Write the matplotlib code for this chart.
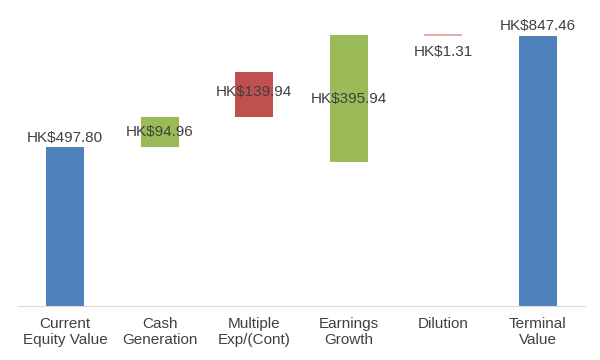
import matplotlib
matplotlib.use("Agg")
import matplotlib.pyplot as plt

categories = ["Current\nEquity Value", "Cash\nGeneration", "Multiple\nExp/(Cont)",
              "Earnings\nGrowth", "Dilution", "Terminal\nValue"]
values = [497.80, 94.96, -139.94, 395.94, -1.31, 847.46]
kinds = ["total", "delta", "delta", "delta", "delta", "total"]
labels = ["HK$497.80", "HK$94.96", "HK$139.94", "HK$395.94", "HK$1.31", "HK$847.46"]

BLUE = "#4F81BD"
GREEN = "#9BBB59"
RED = "#C0504D"
TXT = "#404040"

plt.rcParams['font.family'] = ['Liberation Sans', 'DejaVu Sans']

fig = plt.figure(figsize=(6, 3.6), dpi=100)
ax = fig.add_axes([0.03, 0.15, 0.945, 0.797])

running = 0.0
for i, (v, k, lab) in enumerate(zip(values, kinds, labels)):
    if k == "total":
        running = v
        ax.bar(i, v, bottom=0, width=0.4, color=BLUE)
        ax.text(i, v + 8, lab, ha="center", va="bottom", fontsize=11, color=TXT)
    else:
        color = GREEN if v >= 0 else RED
        bottom = running
        height = abs(v)
        if height > 5:
            ax.bar(i, height, bottom=bottom, width=0.4, color=color)
            ax.text(i, bottom + height / 2 + (8 if v < 0 else 0), lab, ha="center",
                    va="center", fontsize=11, color=TXT)
        else:
            ax.bar(i, height, bottom=bottom, width=0.4, color="#E09A98",
                   edgecolor="#E09A98", linewidth=1.2)
            ax.text(i, bottom - 30, lab, ha="center", va="top", fontsize=11, color=TXT)
        running += v

ax.set_xlim(-0.5, 5.5)
ax.set_ylim(0, 900)
ax.set_xticks(range(len(categories)))
ax.set_xticklabels(categories, fontsize=11, color=TXT)
ax.tick_params(axis="x", length=0, pad=8)
ax.set_yticks([])
for s in ["top", "right", "left"]:
    ax.spines[s].set_visible(False)
ax.spines["bottom"].set_color("#D9D9D9")

fig.savefig("out.png", dpi=100)
